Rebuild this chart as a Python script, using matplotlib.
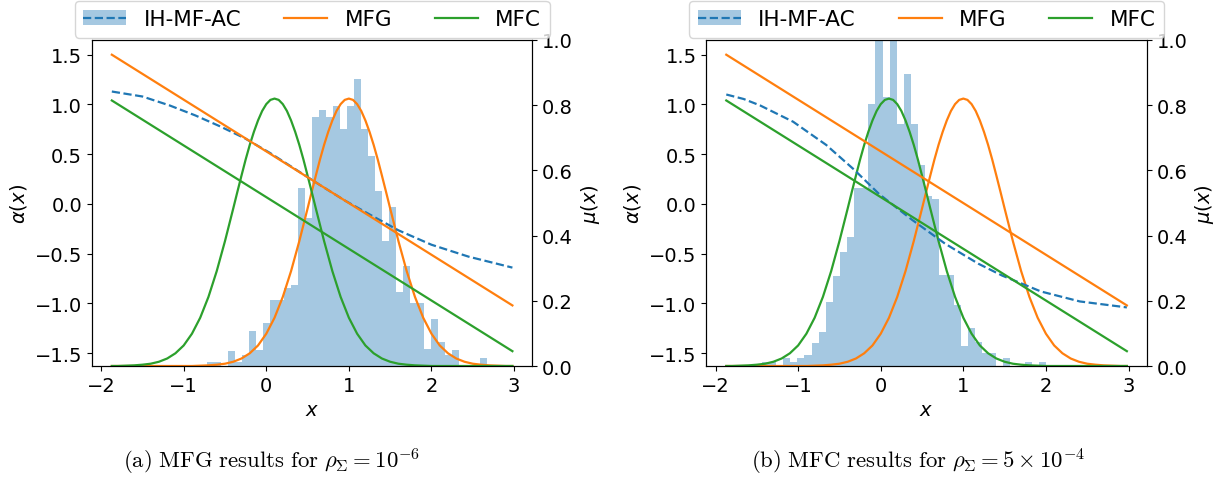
import numpy as np
import matplotlib
matplotlib.use("Agg")
import matplotlib.pyplot as plt
from matplotlib.patches import Patch
from matplotlib.lines import Line2D

plt.rcParams["font.size"] = 14

# stationary densities mu(x) of the MFG and MFC solutions
mfg_x = [-1.87, -0.9, -0.8, -0.7, -0.6, -0.5, -0.4, -0.3, -0.2, -0.1, 0.0, 0.1,
         0.2, 0.3, 0.4, 0.5, 0.55, 0.6, 0.65, 0.7, 0.75, 0.8, 0.85, 0.9, 0.95,
         1.0, 1.05, 1.1, 1.15, 1.2, 1.25, 1.3, 1.35, 1.4, 1.45, 1.5, 1.6, 1.7,
         1.8, 1.9, 2.0, 2.1, 2.2, 2.3, 2.4, 2.5, 2.6, 2.7, 2.8, 2.9, 2.98]
mfg_mu = [0, 0, 0.001, 0.002, 0.004, 0.007, 0.013, 0.023, 0.039, 0.063, 0.099, 0.148,
          0.212, 0.291, 0.383, 0.483, 0.534, 0.584, 0.633, 0.678, 0.718, 0.753, 0.782, 0.803, 0.816,
          0.820, 0.816, 0.803, 0.782, 0.753, 0.718, 0.678, 0.633, 0.584, 0.534, 0.483, 0.383, 0.291,
          0.212, 0.148, 0.099, 0.063, 0.039, 0.023, 0.013, 0.007, 0.004, 0.002, 0.001, 0, 0]
mfc_x = [-1.87, -1.8, -1.7, -1.6, -1.5, -1.4, -1.3, -1.2, -1.1, -1.0, -0.9, -0.8,
         -0.7, -0.6, -0.5, -0.4, -0.35, -0.3, -0.25, -0.2, -0.15, -0.1, -0.05, 0.0, 0.05,
         0.1, 0.15, 0.2, 0.25, 0.3, 0.35, 0.4, 0.45, 0.5, 0.55, 0.6, 0.7, 0.8,
         0.9, 1.0, 1.1, 1.2, 1.3, 1.4, 1.5, 1.6, 1.7, 1.8, 1.9, 2.0, 2.98]
mfc_mu = [0, 0, 0.001, 0.002, 0.004, 0.007, 0.013, 0.023, 0.039, 0.063, 0.099, 0.148,
          0.212, 0.291, 0.383, 0.483, 0.534, 0.584, 0.633, 0.678, 0.718, 0.753, 0.782, 0.803, 0.816,
          0.820, 0.816, 0.803, 0.782, 0.753, 0.718, 0.678, 0.633, 0.584, 0.534, 0.483, 0.383, 0.291,
          0.212, 0.148, 0.099, 0.063, 0.039, 0.023, 0.013, 0.007, 0.004, 0.002, 0.001, 0, 0]

# linear controls alpha(x)
line_x = [-1.87, 2.98]
mfg_alpha = [1.50, -1.02]
mfc_alpha = [1.04, -1.48]

# learned control (IH-MF-AC), left: MFG regime, right: MFC regime
ac_x_a = [-1.87, -1.5, -1.17, -0.86, -0.56, -0.26, 0.05, 0.35, 0.65, 0.95,
          1.25, 1.6, 2.0, 2.45, 2.98]
ac_alpha_a = [1.13, 1.08, 0.99, 0.89, 0.78, 0.66, 0.51, 0.35, 0.19, 0.035,
              -0.105, -0.265, -0.41, -0.53, -0.64]
ac_x_b = [-1.87, -1.66, -1.46, -1.06, -0.66, -0.32, -0.02, 0.38, 0.78, 1.18,
          1.47, 1.94, 2.41, 2.98]
ac_alpha_b = [1.10, 1.055, 0.99, 0.826, 0.593, 0.343, 0.10, -0.16, -0.40, -0.60,
              -0.72, -0.88, -0.98, -1.04]

# empirical state histograms (density), 40 bins each
hist_start_a, hist_width_a = -0.72, 0.0848
hist_a = [0.011, 0.011, 0, 0.047, 0.011, 0.034, 0.107, 0.049, 0.132, 0.202,
          0.202, 0.238, 0.248, 0.546, 0.453, 0.763, 0.786, 0.763, 0.797, 0.727,
          0.797, 0.880, 0.727, 0.643, 0.536, 0.382, 0.489, 0.228, 0.308, 0.193,
          0.193, 0.052, 0.144, 0.073, 0.034, 0.049, 0, 0, 0, 0.025]
hist_start_b, hist_width_b = -1.44, 0.086
hist_b = [0.012, 0.012, 0, 0.024, 0.013, 0.024, 0.034, 0.071, 0.105, 0.197,
          0.275, 0.351, 0.396, 0.546, 0.546, 0.802, 1.10, 0.824, 1.14, 0.742,
          0.896, 0.742, 0.615, 0.522, 0.512, 0.279, 0.279, 0.187, 0.060, 0.116,
          0.075, 0.040, 0.040, 0, 0.025, 0, 0, 0.013, 0, 0.013]

captions = [r"$\mathrm{(a)\ MFG\ results\ for\ }\rho_{\Sigma} = 10^{-6}$",
            r"$\mathrm{(b)\ MFC\ results\ for\ }\rho_{\Sigma} = 5 \times 10^{-4}$"]

panels = [
    (0.075, ac_x_a, ac_alpha_a, hist_start_a, hist_width_a, hist_a, 0.222),
    (0.577, ac_x_b, ac_alpha_b, hist_start_b, hist_width_b, hist_b, 0.75),
]

fig = plt.figure(figsize=(12.24, 4.81), dpi=100)
lw = 1.6
for (left, ac_x, ac_alpha, h0, hw, heights, cap_x), cap in zip(panels, captions):
    ax = fig.add_axes([left, 0.237, 0.36, 0.678])
    ax2 = ax.twinx()

    edges = h0 + hw * np.arange(len(heights) + 1)
    ax2.stairs(heights, edges, fill=True, color="C0", alpha=0.4, lw=0)
    ax2.plot(mfg_x, mfg_mu, color="C1", lw=lw)
    ax2.plot(mfc_x, mfc_mu, color="C2", lw=lw)
    ax2.set_ylim(0, 1)
    ax2.set_ylabel(r"$\mu(x)$")

    ax.plot(ac_x, ac_alpha, "--", color="C0", lw=lw)
    ax.plot(line_x, mfg_alpha, color="C1", lw=lw)
    ax.plot(line_x, mfc_alpha, color="C2", lw=lw)
    ax.set_xlabel(r"$x$")
    ax.set_ylabel(r"$\alpha(x)$")
    ax.set_zorder(ax2.get_zorder() + 1)
    ax.patch.set_visible(False)

    handles = [(Patch(facecolor="C0", alpha=0.4), Line2D([], [], ls="--", color="C0", lw=lw)),
               Line2D([], [], color="C1", lw=lw),
               Line2D([], [], color="C2", lw=lw)]
    ax.legend(handles, ["IH-MF-AC", "MFG", "MFC"], ncol=3, loc="lower center",
              bbox_to_anchor=(0.5, 1.0), borderaxespad=0.1, fontsize=15.5)

    fig.text(cap_x, 0.04, cap, ha="center", va="center", fontsize=16.4,
             math_fontfamily="cm")

fig.savefig("out.png", dpi=100)
